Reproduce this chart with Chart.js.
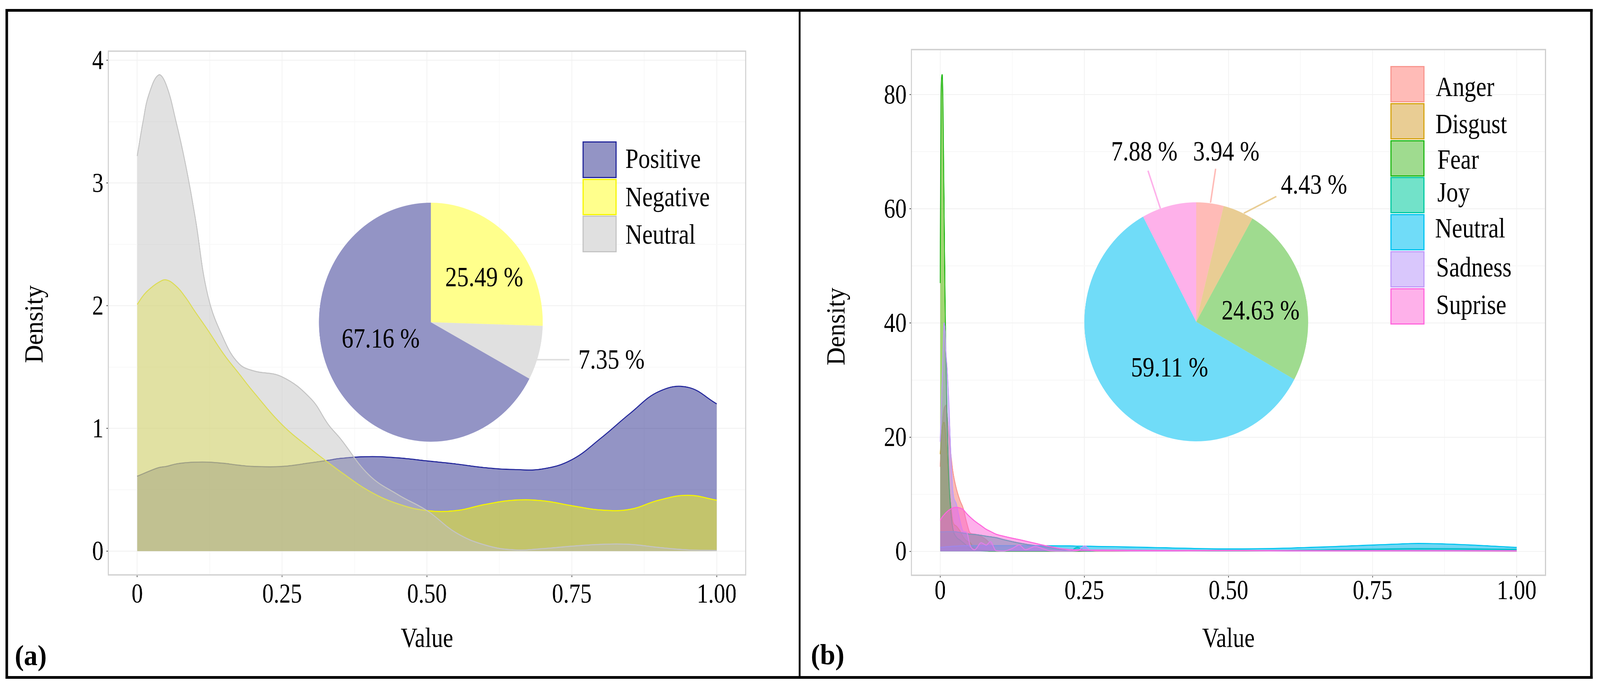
<!DOCTYPE html>
<html>
<head>
<meta charset="utf-8">
<script src="https://cdn.jsdelivr.net/npm/chart.js@4"></script>
<style>
  html, body { margin: 0; padding: 0; background: #fff; overflow: hidden; }
  #page { position: relative; width: 4375px; height: 1759px; overflow: hidden; font-family: "Liberation Serif", serif; color: #000; transform-origin: 0 0; }
  canvas { position: absolute; }
  .box { position: absolute; background: #000; }
  .txt { position: absolute; white-space: nowrap; line-height: 1; }
  .swatch { position: absolute; box-sizing: border-box; border-style: solid; border-width: 3px; }
  svg { position: absolute; left: 0; top: 0; }
</style>
</head>
<body>
<div id="page">
  <canvas id="density-a"></canvas>
  <canvas id="density-b"></canvas>
  <canvas id="pie-a"></canvas>
  <canvas id="pie-b"></canvas>
  <svg id="leaders" width="4375" height="1759"></svg>
</div>
<script>
// panel (a)
var xA = [0, .01, .02, .037, .05, .067, .083, .1, .122, .15, .175, .2, .25, .3, .33, .35, .4, .45, .5, .55, .6, .65, .7, .75, .8, .85, .9, .95, 1];
var positiveA = [.61, .63, .65, .68, .69, .71, .72, .725, .725, .715, .70, .69, .69, .72, .74, .755, .77, .76, .735, .71, .68, .665, .67, .745, .92, 1.12, 1.3, 1.335, 1.2];
var negativeA = [2.01, 2.08, 2.13, 2.19, 2.21, 2.16, 2.07, 1.95, 1.8, 1.6, 1.45, 1.3, 1.03, .83, .72, .65, .49, .385, .33, .33, .38, .415, .41, .37, .335, .34, .415, .455, .415];
var neutralA = [3.22, 3.5, 3.72, 3.88, 3.8, 3.5, 3.16, 2.72, 2.08, 1.72, 1.53, 1.47, 1.42, 1.24, 1.03, .92, .62, .46, .33, .15, .05, .01, .02, .04, .055, .055, .03, .01, .005];
var namesA = ["Positive", "Negative", "Neutral"];
var yTicksA = [0, 1, 2, 3, 4];

// pie (a), clockwise from the top
var pieNamesA = ["Negative", "Neutral", "Positive"];
var pieValuesA = [25.49, 7.35, 67.16];

// panel (b)
var xB = [0, .0015, .0035, .005, .0068, .0085, .0099, .012, .015, .018,
  .022, .028, .034, .04, .046, .052, .06, .071, .08, .087,
  .097, .11, .125, .137, .148, .165, .18, .19, .21, .225,
  .238, .251, .26, .28, .3, .4, .5, .6, .7, .8, .83, .9, 1];
var angerB = [14.8, 18, 21.5, 23.5, 25, 25.4, 25.6, 24, 20.5, 17.5,
  14, 11, 9, 7.5, 5, 3.2, 3, 2.6, 2, 1.2,
  .1, .05, .03, .03, .03, .03, .03, .03, .03, .03,
  .03, .03, .03, .03, .03, .05, .1, .12, .12, .12, .12, .1, .08];
var disgustB = [17, 19, 21.5, 22.4, 22.6, 21.5, 19.5, 16.5, 12, 8.5,
  5.2, 4.4, 3.6, 2.5, 1.8, 1.5, .5, .3, .2, .1,
  .05, .05, .05, .05, .05, .05, .05, .05, .05, .05,
  .02, .02, .02, .02, .02, .1, .15, .1, .05, .05, .05, .04, .03];
var fearB = [47, 80, 83.5, 77, 60, 44, 34, 23, 13, 7.5,
  4, 2.5, 2, 1.5, 1, .5, .3, .1, .05, .02,
  .02, .02, .02, .02, .02, .02, .02, .02, .02, .02,
  .02, .05, .05, .1, .1, .1, .1, .1, .08, .06, .05, .04, .03];
var joyB = [3.4, 3.4, 3.4, 3.4, 3.4, 3.4, 3.45, 3.45, 3.45, 3.45,
  3.45, 3.4, 3.3, 3.2, 3.1, 3, 2.95, 2.8, 2.65, 2.55,
  2.4, 2.05, 1.7, 1.45, 1.25, 1, .8, .65, .35, .05,
  .7, .1, .05, .08, .08, .1, .1, .15, .3, .45, .48, .45, .34];
var neutralB = [.7, .7, .72, .74, .76, .78, .8, .8, .82, .85,
  .88, .92, .95, .97, .98, 1, 1, 1, 1, 1,
  1, 1, 1, 1, 1, 1, .98, .96, .95, .95,
  .92, .9, .88, .85, .82, .6, .42, .55, .9, 1.3, 1.38, 1.2, .68];
var sadnessB = [19.2, 23.5, 30, 35, 40, 38.5, 35, 32, 26, 18,
  10.5, 8.3, 5.5, 3.5, 3.3, 1, .3, 1.5, 1.1, 1.7,
  .1, .05, .5, 1.1, .3, .85, .4, .1, .05, .05,
  .1, .95, .2, .05, .05, .05, .15, .05, .05, .05, .05, .05, .03];
var supriseB = [5.4, 5.7, 6, 6.2, 6.4, 6.6, 6.75, 6.95, 7.2, 7.4,
  7.6, 7.7, 7.6, 7.3, 6.6, 6, 5.3, 4.5, 3.85, 3.5,
  3, 2.65, 2.3, 2.05, 1.8, 1.4, 1.05, .85, .45, .3,
  .25, .25, .22, .22, .2, .15, .15, .12, .12, .12, .12, .11, .1];
var namesB = ["Anger", "Disgust", "Fear", "Joy", "Neutral", "Sadness", "Suprise"];
var yTicksB = [0, 20, 40, 60, 80];

// pie (b), clockwise from the top
var pieNamesB = ["Anger", "Disgust", "Fear", "Neutral", "Suprise"];
var pieValuesB = [3.94, 4.43, 24.63, 59.11, 7.88];

// shared x axis
var xTicks = [0, .25, .5, .75, 1];
var xTickLabels = ["0", "0.25", "0.50", "0.75", "1.00"];

// the source picture has its text stretched in height, canvases are scaled to get that
var STRETCH = 1701 / 1519;
var FONT = "Liberation Serif";
var page = document.getElementById("page");

// the window can come out narrower than the 4375 wide layout, squeeze to fit
if (window.innerWidth < 4375) {
  page.style.transform = "scaleX(" + (window.innerWidth / 4375) + ")";
}

var fillsA = ["rgba(15,17,126,.45)", "rgba(255,255,0,.45)", "rgba(190,190,190,.46)"];
var linesA = ["#23279b", "#f5f500", "#c4c4c4"];
var fillsB = ["rgba(248,118,109,.5)", "rgba(196,154,0,.45)", "rgba(83,180,0,.55)", "rgba(0,192,148,.55)", "rgba(0,182,235,.56)", "rgba(165,138,255,.42)", "rgba(251,97,215,.5)"];
var linesB = ["#f8968f", "#d6a40f", "#1db813", "#00c9a0", "#00c4f0", "#c09cf8", "#ff66dd"];

var panelBorder = {
  id: "panelBorder",
  afterDraw: function(chart) {
    var a = chart.chartArea, c = chart.ctx;
    c.save();
    c.strokeStyle = "#cfcfcf";
    c.lineWidth = 3;
    c.strokeRect(a.left, a.top, a.width, a.height);
    c.restore();
  }
};

function densityChart(id, left, width, xs, series, names, fills, lines, yOpt) {
  var canvas = document.getElementById(id);
  canvas.width = width;
  canvas.height = 1519;
  canvas.style.left = left + "px";
  canvas.style.top = "30px";
  canvas.style.transformOrigin = "0 0";

  var datasets = series.map(function(values, i) {
    return {
      label: names[i],
      data: values.map(function(v, k) { return { x: xs[k], y: v }; }),
      backgroundColor: fills[i],
      borderColor: lines[i],
      borderWidth: 2.5,
      pointRadius: 0,
      fill: "origin",
      tension: 0.4,
      cubicInterpolationMode: yOpt.curve,
      order: series.length - i
    };
  });

  new Chart(canvas, {
    type: "line",
    data: { datasets: datasets },
    plugins: [panelBorder],
    options: {
      responsive: false,
      animation: false,
      devicePixelRatio: 2,
      layout: { padding: { left: 0, top: yOpt.padTop, right: yOpt.padRight, bottom: 0 } },
      plugins: { legend: { display: false }, tooltip: { enabled: false } },
      scales: {
        x: {
          type: "linear",
          min: -0.05,
          max: 1.05,
          afterFit: function(s) { s.height = yOpt.xHeight; },
          border: { display: false },
          grid: {
            tickLength: 5,
            color: function(c) { return c.tick && xTicks.indexOf(c.tick.value) >= 0 ? "#f2f2f2" : "#f8f8f8"; },
            tickColor: function(c) { return c.tick && xTicks.indexOf(c.tick.value) >= 0 ? "#555" : "rgba(0,0,0,0)"; },
            lineWidth: 2
          },
          ticks: {
            stepSize: 0.125,
            includeBounds: false,
            autoSkip: false,
            maxRotation: 0,
            padding: yOpt.xPad,
            color: "#000",
            font: { family: FONT, size: 62, lineHeight: 1 },
            callback: function(v) {
              var k = xTicks.indexOf(v);
              return k >= 0 ? xTickLabels[k] : "";
            }
          },
          title: {
            display: true,
            text: "Value",
            color: "#000",
            font: { family: FONT, size: 63 },
            padding: { top: 0, bottom: 45 }
          }
        },
        y: {
          min: yOpt.min,
          max: yOpt.max,
          afterFit: function(s) { s.width = yOpt.yWidth; },
          border: { display: false },
          grid: {
            tickLength: 5,
            color: function(c) { return c.tick && yOpt.ticks.indexOf(c.tick.value) >= 0 ? "#f2f2f2" : "#f8f8f8"; },
            tickColor: function(c) { return c.tick && yOpt.ticks.indexOf(c.tick.value) >= 0 ? "#555" : "rgba(0,0,0,0)"; },
            lineWidth: 2
          },
          ticks: {
            stepSize: yOpt.step,
            includeBounds: false,
            autoSkip: false,
            padding: 8,
            labelOffset: 4,
            color: "#000",
            font: { family: FONT, size: 62, lineHeight: 1 },
            callback: function(v) { return yOpt.ticks.indexOf(v) >= 0 ? String(v) : ""; }
          }
        }
      }
    }
  });

  canvas.style.transform = "scaleY(" + STRETCH + ")";
}

function pieChart(id, cx, cy, r, names, values, colors) {
  var canvas = document.getElementById(id);
  canvas.style.left = (cx - r) + "px";
  canvas.style.top = (cy - r) + "px";
  canvas.width = 2 * r;
  canvas.height = 2 * r;
  new Chart(canvas, {
    type: "pie",
    data: { labels: names, datasets: [{ data: values, backgroundColor: colors, borderWidth: 0 }] },
    options: {
      responsive: false,
      animation: false,
      devicePixelRatio: 2,
      layout: { padding: 0 },
      plugins: { legend: { display: false }, tooltip: { enabled: false } }
    }
  });
}

// centred on x,y unless left-anchored; o.sy stretches the text in height as in the source
function addText(text, x, y, o) {
  o = o || {};
  var d = document.createElement("div");
  d.className = "txt";
  d.textContent = text;
  d.style.left = x + "px";
  d.style.top = y + "px";
  d.style.fontSize = (o.size || 64) + "px";
  if (o.bold) d.style.fontWeight = "bold";
  var tx = o.anchorLeft ? "0" : "-50%";
  d.style.transformOrigin = o.anchorLeft ? "0 50%" : "50% 50%";
  d.style.transform = "translate(" + tx + ",-50%)" + (o.rotate ? " rotate(" + o.rotate + "deg)" : "") + " scaleY(" + (o.sy || 1.12) + ")";
  page.appendChild(d);
}

function addBox(x, y, w, h) {
  var d = document.createElement("div");
  d.className = "box";
  d.style.cssText = "left:" + x + "px;top:" + y + "px;width:" + w + "px;height:" + h + "px";
  page.appendChild(d);
}

function addSwatch(x, y, w, h, fill, line) {
  var d = document.createElement("div");
  d.className = "swatch";
  d.style.cssText = "left:" + x + "px;top:" + y + "px;width:" + w + "px;height:" + h + "px;background:" + fill + ";border-color:" + line;
  page.appendChild(d);
}

function addLeader(x1, y1, x2, y2, color) {
  var l = document.createElementNS("http://www.w3.org/2000/svg", "line");
  l.setAttribute("x1", x1); l.setAttribute("y1", y1);
  l.setAttribute("x2", x2); l.setAttribute("y2", y2);
  l.setAttribute("stroke", color); l.setAttribute("stroke-width", 4);
  document.getElementById("leaders").appendChild(l);
}

// outer frame and divider
addBox(15, 23, 4340, 7);
addBox(15, 1731, 4340, 7);
addBox(15, 23, 7, 1715);
addBox(4348, 23, 7, 1715);
addBox(2184, 23, 5, 1715);

densityChart("density-a", 22, 2162, xA, [positiveA, negativeA, neutralA], namesA, fillsA, linesA, {
  min: -0.194, max: 4.074, step: 0.5, ticks: yTicksA, curve: "default",
  padTop: 90.2, padRight: 145, xHeight: 231.3, yWidth: 274, xPad: 11
});
densityChart("density-b", 2189, 2159, xB, [angerB, disgustB, fearB, joyB, neutralB, sadnessB, supriseB], namesB, fillsB, linesB, {
  min: -4.2, max: 87.9, step: 10, ticks: yTicksB, curve: "monotone",
  padTop: 86.6, padRight: 122, xHeight: 230.4, yWidth: 303, xPad: 2
});

pieChart("pie-a", 1178, 825, 306, pieNamesA, pieValuesA, ["#ffff8c", "#e0e0e0", "#9394c5"]);
pieChart("pie-b", 3271, 824, 306, pieNamesB, pieValuesB, ["#ffbbb7", "#e9cd94", "#9fdb8f", "#70dcf8", "#feb1ea"]);

addLeader(1466, 921, 1557, 921, "#e0e0e0");
addLeader(3139, 437, 3173, 534, "#feb1ea");
addLeader(3324, 432, 3310, 519, "#ffbbb7");
addLeader(3490, 503, 3401, 546, "#e9cd94");

addText(pieValuesA[0].toFixed(2) + " %", 1324, 709);
addText(pieValuesA[2].toFixed(2) + " %", 1041, 866);
addText(pieValuesA[1].toFixed(2) + " %", 1672, 920);
addText(pieValuesB[4].toFixed(2) + " %", 3129, 387);
addText(pieValuesB[0].toFixed(2) + " %", 3353, 387);
addText(pieValuesB[1].toFixed(2) + " %", 3593, 472);
addText(pieValuesB[2].toFixed(2) + " %", 3447, 794);
addText(pieValuesB[3].toFixed(2) + " %", 3198, 940);

// legends
var swatchesA = ["#9394c5", "#ffff8c", "#e0e0e0"];
var swatchYA = [362, 457.5, 552], textYA = [406, 504, 600];
namesA.forEach(function(n, i) {
  addSwatch(1593, swatchYA[i], 93, 93.5, swatchesA[i], linesA[i]);
  addText(n, 1710, textYA[i], { anchorLeft: true });
});
var swatchesB = ["#ffbbb7", "#e9cd94", "#9fdb8f", "#72e2c9", "#70dcf8", "#d9c7fc", "#feb1ea"];
var swatchYB = [169, 263.5, 358.5, 452.8, 548, 643, 737.5];
var textYB = [222, 317, 408, 492, 584, 684, 780];
var textXB = [3926, 3925, 3930, 3930, 3924, 3927, 3927];
namesB.forEach(function(n, i) {
  addSwatch(3802, swatchYB[i], 93, 93, swatchesB[i], linesB[i]);
  addText(n, textXB[i], textYB[i], { anchorLeft: true });
});

// y titles sit off the panel centre in the source, and panel tags
addText("Density", 93, 830, { rotate: -90 });
addText("Density", 2286, 836, { rotate: -90 });
addText("(a)", 84, 1677, { size: 75, bold: true, sy: 1 });
addText("(b)", 2263, 1675, { size: 75, bold: true, sy: 1 });
</script>
</body>
</html>
